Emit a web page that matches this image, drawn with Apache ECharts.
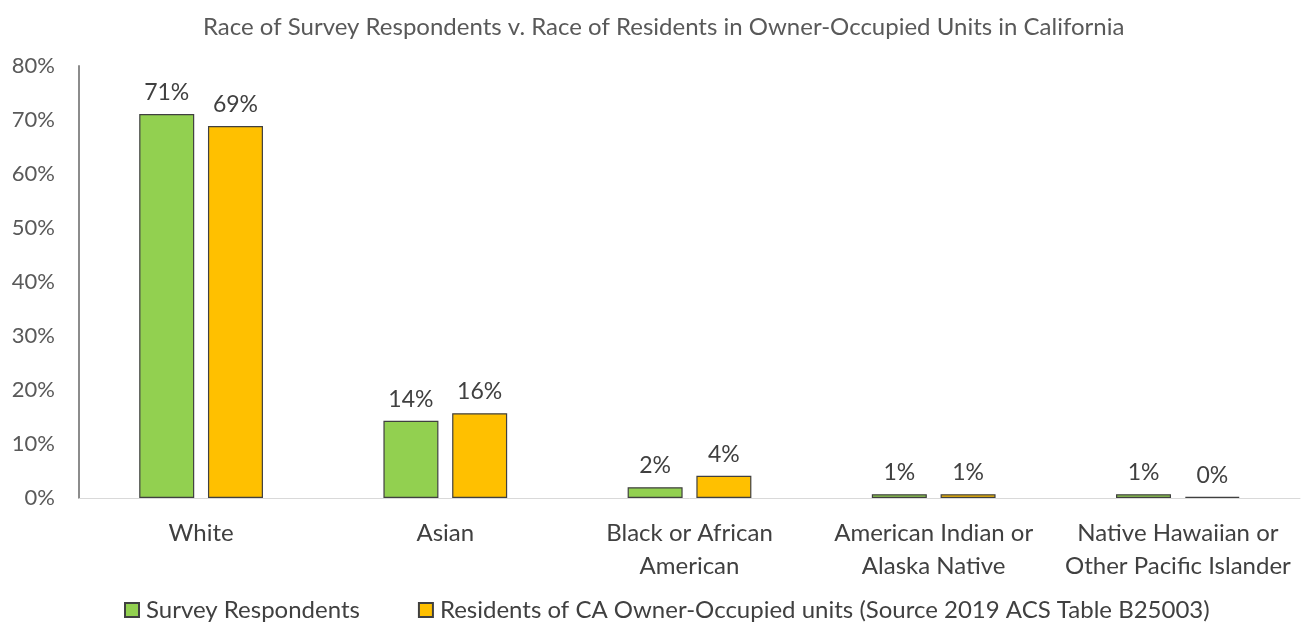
<!DOCTYPE html>
<html><head><meta charset="utf-8">
<script src="https://cdn.jsdelivr.net/npm/echarts@6/dist/echarts.min.js"></script>
<style>html,body{margin:0;padding:0;background:#fff}#c{width:1303px;height:624px}</style>
</head><body><div id="c"></div>
<script>
const categories = ["White", "Asian", "Black or African\nAmerican", "American Indian or\nAlaska Native", "Native Hawaiian or\nOther Pacific Islander"];
const surveyRespondents = [71.1, 14.3, 2.0, 0.7, 0.7];
const caResidents = [68.9, 15.7, 4.1, 0.7, 0.2];
const seriesNames = ["Survey Respondents", "Residents of CA Owner-Occupied units (Source 2019 ACS Table B25003)"];
const yTicks = [0, 10, 20, 30, 40, 50, 60, 70, 80];

const font = "Lato, 'Noto Sans', sans-serif";
const chart = echarts.init(document.getElementById('c'));
const lbl = {show: true, position: 'top', distance: 10, color: '#404040', fontSize: 23, fontFamily: font,
  formatter: p => Math.round(p.value) + '%'};
chart.setOption({
  animation: false,
  title: {text: "Race of Survey Respondents v. Race of Residents in Owner-Occupied Units in California",
    left: 198, top: 10, textStyle: {fontSize: 24, fontWeight: 'normal', color: '#595959', fontFamily: font}},
  legend: {bottom: -3, left: 119, itemWidth: 14, itemHeight: 14, itemGap: 58,
    textStyle: {fontSize: 24, color: '#404040', fontFamily: font, padding: [0, 0, 0, 2]},
    data: [{name: seriesNames[0], icon: 'rect'}, {name: seriesNames[1], icon: 'rect'}]},
  grid: {left: 79, right: 3, top: 66, bottom: 126},
  xAxis: {type: 'category', data: categories,
    axisLine: {lineStyle: {color: '#d9d9d9', width: 1}}, axisTick: {show: false},
    axisLabel: {fontSize: 24, color: '#404040', fontFamily: font, margin: 19, lineHeight: 33, interval: 0}},
  yAxis: {type: 'value', min: 0, max: 80, interval: 10,
    axisLine: {show: true, lineStyle: {color: '#8c8c8c', width: 2}}, axisTick: {show: false},
    splitLine: {show: false},
    axisLabel: {fontSize: 22, color: '#595959', fontFamily: font, margin: 24,
      formatter: v => yTicks.includes(v) ? v + '%' : ''}},
  series: [
    {name: seriesNames[0], type: 'bar', data: surveyRespondents, barWidth: 55, barGap: '25%',
     itemStyle: {color: '#92d050', borderColor: '#404040', borderWidth: 1.2}, label: lbl},
    {name: seriesNames[1], type: 'bar', data: caResidents, barWidth: 55, barGap: '25%',
     itemStyle: {color: '#ffc000', borderColor: '#404040', borderWidth: 1.2}, label: lbl}
  ]
});
</script></body></html>
